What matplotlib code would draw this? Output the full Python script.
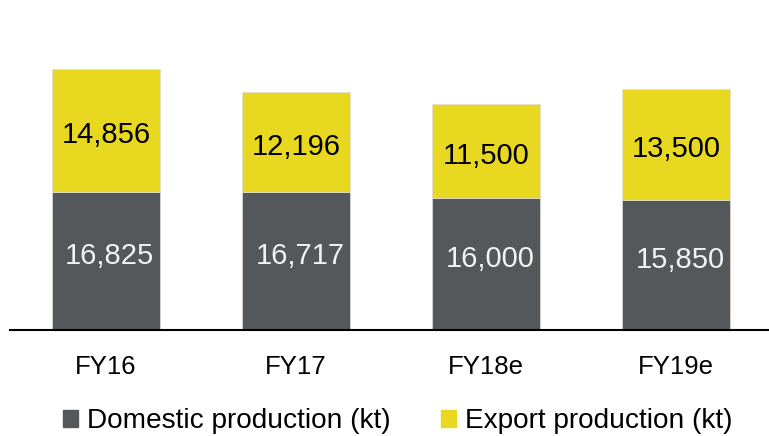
import numpy as np
import matplotlib.pyplot as plt
from matplotlib.patches import Patch

plt.rcParams['font.family'] = ['Liberation Sans', 'DejaVu Sans']

years = ['FY16', 'FY17', 'FY18e', 'FY19e']
domestic = [16825, 16717, 16000, 15850]
export = [14856, 12196, 11500, 13500]

dark = '#55585B'
yellow = '#E8D820'


def main():
    fig = plt.figure(figsize=(7.69, 4.36), dpi=100, facecolor='w')
    ax = fig.add_axes([0.013, 0.2431, 0.99, 0.734])

    x = np.arange(len(years))
    w = 0.57
    ax.bar(x, domestic, w, color=dark, edgecolor='#dddddd', linewidth=0.5)
    ax.bar(x, export, w, bottom=domestic, color=yellow, edgecolor='#dddddd', linewidth=0.5)

    for i in range(len(years)):
        ax.text(x[i] + 0.02, domestic[i] / 2. + 600, '{:,}'.format(domestic[i]),
                ha='center', va='center', fontsize=21, color='#f2f2f2')
        ax.text(x[i], domestic[i] + export[i] / 2. - 600, '{:,}'.format(export[i]),
                ha='center', va='center', fontsize=21, color='black')

    ax.set_xlim(-0.505, 3.5)
    ax.set_ylim(0, 38900)
    ax.set_xticks(x)
    ax.set_xticklabels(years, fontsize=18.5)
    ax.tick_params(axis='x', length=0, pad=18)
    ax.set_yticks([])
    for s in ['top', 'right', 'left']:
        ax.spines[s].set_visible(False)
    ax.spines['bottom'].set_linewidth(1.5)
    ax.spines['bottom'].set_color('black')

    handles = [Patch(color=dark, label='Domestic production (kt)'),
               Patch(color=yellow, label='Export production (kt)')]
    fig.legend(handles=handles, loc='center', bbox_to_anchor=(0.517, 0.034),
               ncol=2, frameon=False, fontsize=20.2, handlelength=0.55,
               handleheight=0.55, handletextpad=0.3, columnspacing=1.8)

    plt.savefig('out.png', dpi=100, facecolor='w')
    plt.close('all')


if __name__ == '__main__':
    main()
